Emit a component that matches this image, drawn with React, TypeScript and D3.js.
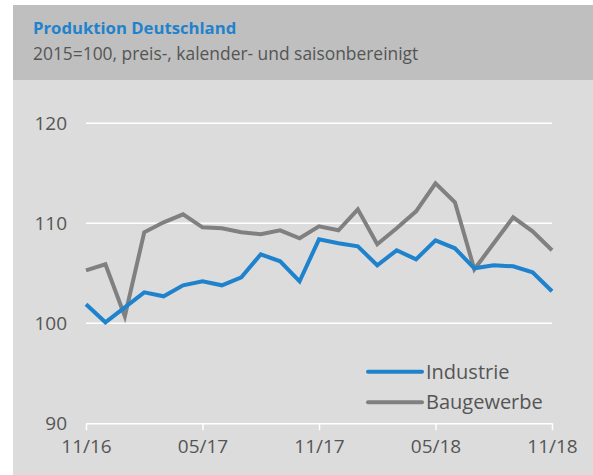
import { useEffect, useRef } from "react";
import * as d3 from "d3";

// months from 11/16 to 11/18
const MONTHS = [
  "11/16", "12/16", "01/17", "02/17", "03/17", "04/17", "05/17", "06/17", "07/17",
  "08/17", "09/17", "10/17", "11/17", "12/17", "01/18", "02/18", "03/18", "04/18",
  "05/18", "06/18", "07/18", "08/18", "09/18", "10/18", "11/18",
];

const INDUSTRIE = [
  101.9, 100.1, 101.6, 103.1, 102.7, 103.8, 104.2, 103.8, 104.6, 106.9, 106.2, 104.2,
  108.4, 108.0, 107.7, 105.8, 107.3, 106.4, 108.3, 107.5, 105.5, 105.8, 105.7, 105.1, 103.2,
];

const BAUGEWERBE = [
  105.3, 105.9, 100.7, 109.1, 110.1, 110.9, 109.6, 109.5, 109.1, 108.9, 109.3, 108.5,
  109.7, 109.3, 111.4, 107.9, 109.5, 111.2, 114.0, 112.1, 105.4, 108.0, 110.6, 109.2, 107.3,
];

const X_TICKS = ["11/16", "05/17", "11/17", "05/18", "11/18"];
const Y_TICKS = [90, 100, 110, 120];

const SERIES = [
  { name: "Industrie", values: INDUSTRIE, color: "#1f82cd" },
  { name: "Baugewerbe", values: BAUGEWERBE, color: "#808080" },
];

const W = 593;
const H = 475;
const plot = { left: 86, right: 552, top: 123.3, bottom: 423.3 };
const FONT = "'Open Sans', 'Noto Sans', sans-serif";

export default function App() {
  const ref = useRef<SVGSVGElement>(null);

  useEffect(() => {
    const svg = d3.select(ref.current);
    svg.selectAll("*").remove();

    // backgrounds
    svg.append("rect").attr("x", 13).attr("y", 80).attr("width", W - 13).attr("height", H - 80).attr("fill", "#dcdcdc");
    svg.append("rect").attr("x", 13).attr("y", 5).attr("width", W - 13).attr("height", 75).attr("fill", "#bfbfbf");

    svg.append("text")
      .attr("x", 33).attr("y", 34)
      .attr("font-family", FONT).attr("font-size", 16.7).attr("font-weight", 700)
      .attr("fill", "#1f82cd")
      .text("Produktion Deutschland");
    svg.append("text")
      .attr("x", 33).attr("y", 60)
      .attr("font-family", FONT).attr("font-size", 17.4)
      .attr("fill", "#555")
      .text("2015=100, preis-, kalender- und saisonbereinigt");

    const x = d3.scalePoint<string>().domain(MONTHS).range([plot.left, plot.right]);
    const y = d3.scaleLinear().domain([90, 120]).range([plot.bottom, plot.top]);

    // gridlines
    svg.append("g")
      .selectAll("line")
      .data(Y_TICKS.filter((d) => d > 90))
      .join("line")
      .attr("x1", plot.left).attr("x2", plot.right)
      .attr("y1", (d) => y(d)).attr("y2", (d) => y(d))
      .attr("stroke", "#fff").attr("stroke-width", 1.5);

    svg.append("g")
      .selectAll("text")
      .data(Y_TICKS)
      .join("text")
      .attr("x", 67).attr("y", (d) => y(d) + 7)
      .attr("text-anchor", "end")
      .attr("font-family", FONT).attr("font-size", 19)
      .attr("fill", "#555")
      .text((d) => d);

    // x axis
    const xAxis = svg.append("g").attr("transform", `translate(0,${plot.bottom})`);
    xAxis.call(d3.axisBottom(x).tickValues(X_TICKS).tickSize(7).tickPadding(9).tickSizeOuter(0));
    xAxis.select(".domain").attr("stroke", "#fff").attr("stroke-width", 1.5);
    xAxis.selectAll(".tick line").attr("stroke", "#fff").attr("stroke-width", 1.5);
    xAxis.selectAll(".tick text")
      .attr("font-family", FONT).attr("font-size", 19).attr("fill", "#555");

    const line = d3.line<number>()
      .x((_, i) => x(MONTHS[i])!)
      .y((d) => y(d));

    svg.append("g")
      .selectAll("path")
      .data([...SERIES].reverse())
      .join("path")
      .attr("d", (d) => line(d.values))
      .attr("fill", "none")
      .attr("stroke", (d) => d.color)
      .attr("stroke-width", 4)
      .attr("stroke-linejoin", "miter");

    // legend
    const legend = svg.append("g")
      .selectAll("g")
      .data(SERIES)
      .join("g")
      .attr("transform", (_, i) => `translate(368,${371.7 + i * 30.6})`);
    legend.append("line")
      .attr("x1", 0).attr("x2", 54)
      .attr("stroke", (d) => d.color).attr("stroke-width", 4).attr("stroke-linecap", "round");
    legend.append("text")
      .attr("x", 58).attr("y", 6.8)
      .attr("font-family", FONT).attr("font-size", 20).attr("fill", "#555")
      .text((d) => d.name);
  }, []);

  return (
    <svg
      ref={ref}
      width={W}
      height={H}
      style={{ position: "absolute", left: 0, top: 0, background: "#fff" }}
    />
  );
}
